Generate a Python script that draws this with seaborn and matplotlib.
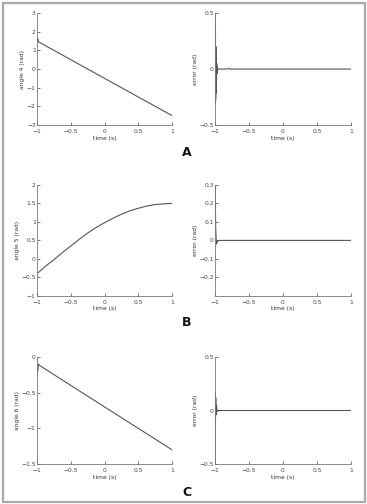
import matplotlib
matplotlib.use("Agg")
import matplotlib.pyplot as plt
import seaborn as sns
import pandas as pd
from matplotlib.patches import Rectangle

# ---- data ----
t_a4 = [-1.0, -0.995, -0.99, -0.98, -0.5, 0.0, 0.5, 1.0]
angle4 = [1.7, 1.45, 1.62, 1.46, 0.5, -0.5, -1.5, -2.5]

t_err4 = [-1.0, -0.997, -0.994, -0.991, -0.988, -0.985, -0.982, -0.979, -0.976, -0.972,
          -0.968, -0.96, -0.9, -0.82, -0.8, -0.78, -0.5, 0.0, 0.5, 1.0]
err4 = [0.5, -0.3, 0.35, -0.28, 0.2, -0.22, 0.1, -0.12, 0.05, -0.04,
        0.02, 0.0, 0.0, 0.0, 0.008, 0.0, 0.0, 0.0, 0.0, 0.0]

t_a5 = [-1.0, -0.875, -0.75, -0.625, -0.5, -0.375, -0.25, -0.125, 0.0,
        0.125, 0.25, 0.375, 0.5, 0.625, 0.75, 0.875, 1.0]
angle5 = [-0.4, -0.2, -0.02, 0.17, 0.35, 0.53, 0.7, 0.85, 0.98,
          1.1, 1.21, 1.3, 1.37, 1.43, 1.47, 1.49, 1.5]

t_err5 = [-1.0, -0.99, -0.98, -0.97, -0.95, -0.9, -0.5, 0.0, 0.5, 1.0]
err5 = [0.3, 0.06, -0.02, -0.01, 0.0, 0.0, 0.0, 0.0, 0.0, 0.0]

t_a6 = [-1.0, -0.995, -0.99, -0.985, -0.98, -0.5, 0.0, 0.5, 1.0]
angle6 = [-0.25, -0.12, -0.2, -0.1, -0.11, -0.4, -0.7, -1.0, -1.3]

t_err6 = [-1.0, -0.997, -0.994, -0.99, -0.985, -0.98, -0.97, -0.95, -0.5, 0.0, 0.5, 1.0]
err6 = [-0.5, 0.17, -0.1, 0.12, -0.04, 0.05, 0.0, 0.0, 0.0, 0.0, 0.0, 0.0]

xticks = [-1, -0.5, 0, 0.5, 1]
xtick_labels = ["\u22121", "\u22120.5", "0", "0.5", "1"]
ylabels = ["angle 4 (rad)", "error (rad)", "angle 5 (rad)", "error (rad)",
           "angle 6 (rad)", "error (rad)"]
panel_letters = ["A", "B", "C"]

sns.set_theme(style="ticks")
plt.rcParams["font.family"] = ["DejaVu Sans"]

fig = plt.figure(figsize=(3.67, 5.04), dpi=100)
fig.patch.set_facecolor("white")
fig.patches.append(Rectangle((2.5 / 367, 2.5 / 504), 1 - 5 / 367, 1 - 5 / 504,
                             transform=fig.transFigure, fill=False,
                             edgecolor="#aaaaaa", linewidth=1.6, zorder=0))

rows = [(0.752, 0.974), (0.413, 0.633), (0.079, 0.292)]
cols = [(0.101, 0.469), (0.586, 0.956)]

series = [
    (t_a4, angle4, (-3, 3), [-3, -2, -1, 0, 1, 2, 3]),
    (t_err4, err4, (-0.5, 0.5), [-0.5, 0, 0.5]),
    (t_a5, angle5, (-1, 2), [-1, -0.5, 0, 0.5, 1, 1.5, 2]),
    (t_err5, err5, (-0.3, 0.3), [-0.2, -0.1, 0, 0.1, 0.2, 0.3]),
    (t_a6, angle6, (-1.5, 0), [-1.5, -1, -0.5, 0]),
    (t_err6, err6, (-0.5, 0.5), [-0.5, 0, 0.5]),
]

def fmt(v):
    s = ("%g" % v)
    return s.replace("-", "\u2212")

for i, (tx, ty, ylim, yt) in enumerate(series):
    r, c = divmod(i, 2)
    b, t = rows[r]
    l, rr = cols[c]
    ax = fig.add_axes([l, b, rr - l, t - b])
    df = pd.DataFrame({"time": tx, "value": ty})
    sns.lineplot(data=df, x="time", y="value", ax=ax, color="#555555",
                 linewidth=0.8, sort=False, estimator=None)
    ax.set_xlim(-1, 1)
    ax.set_ylim(*ylim)
    ax.set_xticks(xticks)
    ax.set_xticklabels(xtick_labels)
    ax.set_yticks(yt)
    ax.set_yticklabels([fmt(v) for v in yt])
    ax.set_xlabel("time (s)", fontsize=4.3, labelpad=1, color="#333333")
    ax.set_ylabel(ylabels[i], fontsize=4.3, labelpad=1, color="#333333")
    ax.tick_params(direction="in", length=2, width=0.5, labelsize=4.3,
                   pad=1, colors="#444444")
    ax.tick_params(axis="x", pad=3)
    for s in ["top", "right"]:
        ax.spines[s].set_visible(False)
    for s in ["left", "bottom"]:
        ax.spines[s].set_linewidth(0.6)
        ax.spines[s].set_color("#777777")
    ax.set_facecolor("white")

letter_y = [153, 323, 492]
for letter, y in zip(panel_letters, letter_y):
    fig.text(187 / 367, 1 - y / 504, letter, fontsize=9, fontweight="bold",
             ha="center", va="center", color="#111111")

fig.savefig("out.png", dpi=100, facecolor="white")
